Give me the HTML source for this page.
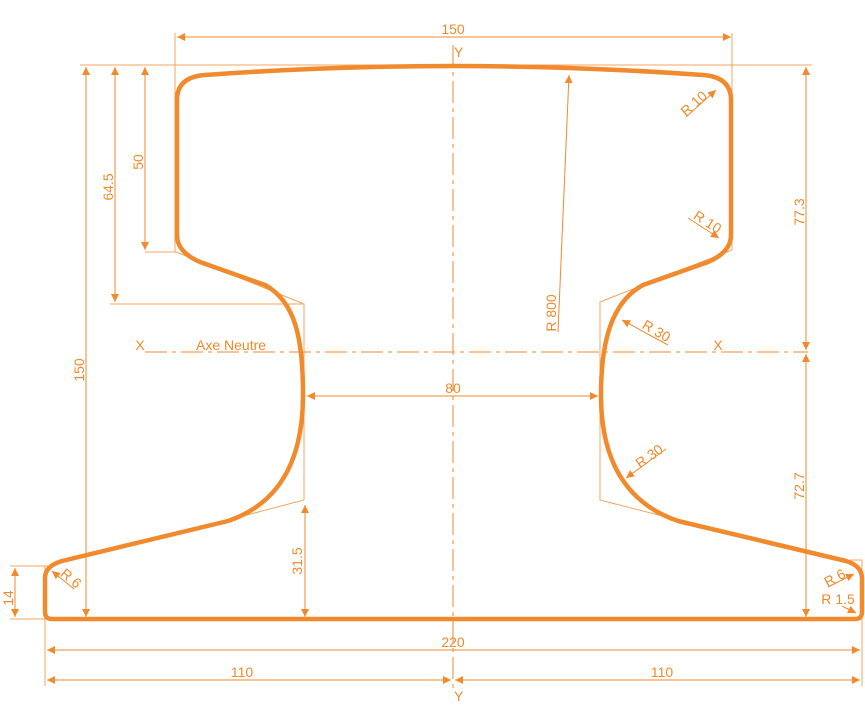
<!DOCTYPE html>
<html><head><meta charset="utf-8"><style>
html,body{margin:0;padding:0;background:#fff;}
svg{display:block;}
text{font-family:"Liberation Sans",sans-serif;font-size:14px;fill:#f08a2c;}
</style></head><body>
<svg width="865" height="719" viewBox="0 0 865 719" xmlns="http://www.w3.org/2000/svg">
<defs>
<marker id="a" viewBox="0 0 10 10" refX="10" refY="5" markerWidth="12" markerHeight="8" markerUnits="userSpaceOnUse" orient="auto-start-reverse">
<path d="M0,0 L10,5 L0,10 Z" fill="#f08a2c"/></marker>
</defs>
<g stroke="#f5a460" stroke-width="1" fill="none">
<line x1="80" y1="65" x2="812" y2="65"/>
<line x1="175" y1="33" x2="175" y2="252"/>
<line x1="732" y1="33" x2="732" y2="250"/>
<line x1="145" y1="252" x2="176" y2="252"/>
<line x1="110" y1="304" x2="304" y2="304"/>
<polyline points="176,252 304,304 304,500 228,520"/>
<polyline points="732,250 600,302 600,500 678,520"/>
<line x1="10" y1="566" x2="50" y2="566"/>
<line x1="10" y1="619" x2="45" y2="619"/>
<line x1="45" y1="566" x2="45" y2="686"/>
<line x1="862" y1="560" x2="862" y2="686"/>
<line x1="850" y1="560" x2="862" y2="560"/>
</g>
<g stroke="#f08a2c" stroke-width="1" fill="none">
<line x1="453" y1="45" x2="453" y2="690" stroke-dasharray="22,5,4,5"/>
<line x1="145" y1="352" x2="808" y2="352" stroke-dasharray="22,5,4,5"/>
<line x1="177" y1="37" x2="731" y2="37" marker-start="url(#a)" marker-end="url(#a)"/>
<line x1="86" y1="67" x2="86" y2="617" marker-start="url(#a)" marker-end="url(#a)"/>
<line x1="115" y1="67" x2="115" y2="302" marker-start="url(#a)" marker-end="url(#a)"/>
<line x1="145" y1="67" x2="145" y2="250" marker-start="url(#a)" marker-end="url(#a)"/>
<line x1="806" y1="67" x2="806" y2="350" marker-start="url(#a)" marker-end="url(#a)"/>
<line x1="806" y1="354" x2="806" y2="617" marker-start="url(#a)" marker-end="url(#a)"/>
<line x1="307" y1="396" x2="598" y2="396" marker-start="url(#a)" marker-end="url(#a)"/>
<line x1="305" y1="505" x2="305" y2="617" marker-start="url(#a)" marker-end="url(#a)"/>
<line x1="15" y1="568" x2="15" y2="617" marker-start="url(#a)" marker-end="url(#a)"/>
<line x1="47" y1="650" x2="860" y2="650" marker-start="url(#a)" marker-end="url(#a)"/>
<line x1="47" y1="680" x2="451" y2="680" marker-start="url(#a)" marker-end="url(#a)"/>
<line x1="455" y1="680" x2="860" y2="680" marker-start="url(#a)" marker-end="url(#a)"/>
<line x1="558" y1="332" x2="569" y2="75" marker-end="url(#a)"/>
<line x1="686" y1="117" x2="716" y2="90" marker-end="url(#a)"/>
<line x1="688" y1="218" x2="719" y2="238" marker-end="url(#a)"/>
<line x1="668" y1="345" x2="622" y2="320" marker-end="url(#a)"/>
<line x1="666" y1="449" x2="626" y2="478" marker-end="url(#a)"/>
<line x1="74" y1="589" x2="52" y2="571" marker-end="url(#a)"/>
<line x1="828" y1="587" x2="854" y2="574" marker-end="url(#a)"/>
<line x1="842" y1="606" x2="856" y2="613" marker-end="url(#a)"/>
</g>
<path d="M453,619 L52,619 Q45,619 45,612 L45,578 Q45,566 62,561 L228,521 C272,506 303,470 303,395 C303,340 296,302 265,285 L200,262 Q177,252 177,235 L177,100 Q177,77 205,75 Q330,66 453,66 Q576,66 703,75 Q731,77 731,100 L731,235 Q731,252 708,262 L643,285 C612,302 601,340 601,395 C601,470 634,506 678,521 L846,561 Q862,566 862,578 L862,612 Q862,619 855,619 Z" fill="none" stroke="#f08a2c" stroke-width="4.5" stroke-linejoin="round"/>
<text x="453" y="34" text-anchor="middle">150</text>
<text x="454" y="57">Y</text>
<text x="454" y="701">Y</text>
<text x="140" y="350" text-anchor="middle">X</text>
<text x="718" y="350" text-anchor="middle">X</text>
<text x="196" y="350">Axe Neutre</text>
<text x="453" y="393" text-anchor="middle">80</text>
<text x="453" y="647" text-anchor="middle">220</text>
<text x="242" y="677" text-anchor="middle">110</text>
<text x="662" y="677" text-anchor="middle">110</text>
<text transform="translate(84,370) rotate(-90)" text-anchor="middle">150</text>
<text transform="translate(113,187) rotate(-90)" text-anchor="middle">64.5</text>
<text transform="translate(143,162) rotate(-90)" text-anchor="middle">50</text>
<text transform="translate(804,212) rotate(-90)" text-anchor="middle">77.3</text>
<text transform="translate(804,486) rotate(-90)" text-anchor="middle">72.7</text>
<text transform="translate(302,561) rotate(-90)" text-anchor="middle">31.5</text>
<text transform="translate(13,598) rotate(-90)" text-anchor="middle">14</text>
<text transform="translate(556,313) rotate(-90)" text-anchor="middle">R 800</text>
<text transform="translate(697,107) rotate(-42)" text-anchor="middle">R 10</text>
<text transform="translate(705,226) rotate(32)" text-anchor="middle">R 10</text>
<text transform="translate(654,335) rotate(30)" text-anchor="middle">R 30</text>
<text transform="translate(652,460) rotate(-35)" text-anchor="middle">R 30</text>
<text transform="translate(68,582) rotate(40)" text-anchor="middle">R 6</text>
<text transform="translate(837,582) rotate(-28)" text-anchor="middle">R 6</text>
<text x="838" y="604" text-anchor="middle">R 1.5</text>
</svg>
</body></html>
